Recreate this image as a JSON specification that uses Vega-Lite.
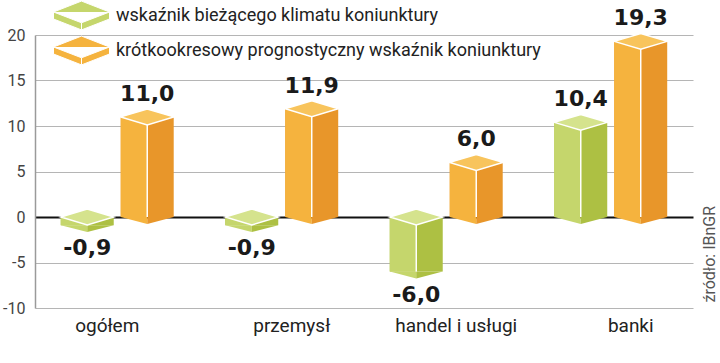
{
  "$schema": "https://vega.github.io/schema/vega-lite/v6.json",
  "width": 658,
  "height": 273,
  "autosize": {"type": "none"},
  "padding": {"left": 35, "top": 35, "right": 27, "bottom": 55},
  "config": {
    "view": {"stroke": null},
    "font": "Roboto",
    "locale": {"number": {"decimal": ",", "thousands": " ", "grouping": [3], "currency": ["", " zł"], "minus": "-"}}
  },
  "data": {
    "values": [
      {"kat": "ogółem", "s": "wskaźnik bieżącego klimatu koniunktury", "v": -0.9},
      {"kat": "ogółem", "s": "krótkookresowy prognostyczny wskaźnik koniunktury", "v": 11.0},
      {"kat": "przemysł", "s": "wskaźnik bieżącego klimatu koniunktury", "v": -0.9},
      {"kat": "przemysł", "s": "krótkookresowy prognostyczny wskaźnik koniunktury", "v": 11.9},
      {"kat": "handel i usługi", "s": "wskaźnik bieżącego klimatu koniunktury", "v": -6.0},
      {"kat": "handel i usługi", "s": "krótkookresowy prognostyczny wskaźnik koniunktury", "v": 6.0},
      {"kat": "banki", "s": "wskaźnik bieżącego klimatu koniunktury", "v": 10.4},
      {"kat": "banki", "s": "krótkookresowy prognostyczny wskaźnik koniunktury", "v": 19.3}
    ]
  },
  "layer": [
    {
      "encoding": {
        "x": {
          "field": "kat", "type": "nominal",
          "sort": ["ogółem", "przemysł", "handel i usługi", "banki"],
          "scale": {"paddingInner": 0, "paddingOuter": 0},
          "axis": {
            "title": null, "domain": false, "ticks": false, "labelAngle": 0, "labelFontSize": 19, "labelColor": "#222", "labelPadding": 8,
            "labelOffset": {"condition": [{"test": "datum.value === 'ogółem'", "value": -10}, {"test": "datum.value === 'banki'", "value": 20}], "value": 10}
          }
        },
        "y": {
          "field": "v", "type": "quantitative",
          "scale": {"domain": [-10, 20], "nice": false},
          "axis": {
            "title": null,
            "values": [-10, -5, 0, 5, 10, 15, 20],
            "format": "d",
            "grid": true,
            "gridColor": {"condition": {"test": "datum.value === 0", "value": "#111111"}, "value": "#b5b5b5"},
            "gridWidth": {"condition": {"test": "datum.value === 0", "value": 2}, "value": 1},
            "domainColor": "#9a9a9a",
            "domainWidth": 1.5,
            "ticks": false,
            "labelPadding": 10,
            "labelFontSize": 16,
            "labelColor": "#444"
          }
        }
      },
      "layer": [
        {
          "mark": {"type": "bar"},
          "encoding": {
            "xOffset": {
              "field": "s", "type": "nominal",
              "scale": {"domain": ["wskaźnik bieżącego klimatu koniunktury", "krótkookresowy prognostyczny wskaźnik koniunktury"], "paddingInner": 0.117, "paddingOuter": 0.43}
            },
            "y2": {"datum": 0},
            "color": {"condition": {"test": "datum.s === 'wskaźnik bieżącego klimatu koniunktury'", "value": "#adc043"}, "value": "#e8962a"}
          }
        },
        {
          "mark": {"type": "bar"},
          "encoding": {
            "xOffset": {
              "field": "s", "type": "nominal",
              "scale": {"domain": ["wskaźnik bieżącego klimatu koniunktury", "krótkookresowy prognostyczny wskaźnik koniunktury"], "paddingInner": 0.5583, "paddingOuter": 0.65, "align": 0.33}
            },
            "y2": {"datum": 0},
            "color": {
              "field": "s", "type": "nominal",
              "scale": {"domain": ["wskaźnik bieżącego klimatu koniunktury", "krótkookresowy prognostyczny wskaźnik koniunktury"], "range": ["#c5d66c", "#f5b33e"]},
              "legend": {
                "orient": "none", "legendX": 32, "legendY": -34, "title": null,
                "symbolType": "M0,-1.03 L2,-0.25 L2,0.25 L0,1.03 L-2,0.25 L-2,-0.25 Z M-2,-0.25 L0,0.52 L2,-0.25 M0,0.52 L0,1.03",
                "symbolSize": 784, "symbolStrokeColor": "white", "symbolStrokeWidth": 1, "symbolOpacity": 1,
                "labelFontSize": 18, "labelColor": "#222", "labelOffset": 20, "rowPadding": 2, "padding": 0, "labelLimit": 600
              }
            }
          }
        },
        {
          "encoding": {
            "xOffset": {
              "field": "s", "type": "nominal",
              "scale": {"domain": ["wskaźnik bieżącego klimatu koniunktury", "krótkookresowy prognostyczny wskaźnik koniunktury"], "paddingInner": 0.117, "paddingOuter": 0.43}
            }
          },
          "layer": [
            {
              "transform": [{"filter": "datum.v >= 0"}],
              "mark": {"type": "point", "filled": true, "opacity": 1, "strokeWidth": 0, "size": 2809, "shape": "M-1,0 L0,0 L0,0.26 Z"},
              "encoding": {
                "y": {"datum": 0},
                "fill": {"condition": {"test": "datum.s === 'wskaźnik bieżącego klimatu koniunktury'", "value": "#c5d66c"}, "value": "#f5b33e"}
              }
            },
            {
              "transform": [{"filter": "datum.v >= 0"}],
              "mark": {"type": "point", "filled": true, "opacity": 1, "strokeWidth": 0, "size": 2809, "shape": "M0,0 L1,0 L0,0.26 Z"},
              "encoding": {
                "y": {"datum": 0},
                "fill": {"condition": {"test": "datum.s === 'wskaźnik bieżącego klimatu koniunktury'", "value": "#adc043"}, "value": "#e8962a"}
              }
            },
            {
              "transform": [{"filter": "datum.v < 0"}],
              "mark": {"type": "point", "filled": true, "opacity": 1, "strokeWidth": 0, "size": 2809, "shape": "M-1,0 L0,0 L0,0.26 Z"},
              "encoding": {
                "fill": {"condition": {"test": "datum.s === 'wskaźnik bieżącego klimatu koniunktury'", "value": "#c5d66c"}, "value": "#f5b33e"}
              }
            },
            {
              "transform": [{"filter": "datum.v < 0"}],
              "mark": {"type": "point", "filled": true, "opacity": 1, "strokeWidth": 0, "size": 2809, "shape": "M0,0 L1,0 L0,0.26 Z"},
              "encoding": {
                "fill": {"condition": {"test": "datum.s === 'wskaźnik bieżącego klimatu koniunktury'", "value": "#adc043"}, "value": "#e8962a"}
              }
            },
            {
              "mark": {"type": "rule", "color": "white", "strokeWidth": 1.5},
              "encoding": {"y2": {"datum": 0}}
            },
            {
              "transform": [{"filter": "datum.v >= 0"}],
              "mark": {"type": "point", "filled": true, "opacity": 1, "stroke": "white", "strokeWidth": 1.5, "size": 2809, "shape": "M-1,0 L0,-0.3 L1,0 L0,0.3 Z"},
              "encoding": {
                "fill": {"condition": {"test": "datum.s === 'wskaźnik bieżącego klimatu koniunktury'", "value": "#d5e38d"}, "value": "#f8c45c"}
              }
            },
            {
              "transform": [{"filter": "datum.v < 0"}],
              "mark": {"type": "point", "filled": true, "opacity": 1, "stroke": "white", "strokeWidth": 1.5, "size": 2809, "shape": "M-1,0 L0,-0.3 L1,0 L0,0.3 Z"},
              "encoding": {
                "y": {"datum": 0},
                "fill": {"condition": {"test": "datum.s === 'wskaźnik bieżącego klimatu koniunktury'", "value": "#d5e38d"}, "value": "#f8c45c"}
              }
            },
            {
              "transform": [{"filter": "datum.v >= 0"}],
              "mark": {"type": "text", "font": "DejaVu Sans", "fontWeight": "bold", "fontSize": 22, "color": "#1a1a1a", "baseline": "alphabetic", "dy": -16},
              "encoding": {"text": {"field": "v", "type": "quantitative", "format": ".1f"}}
            },
            {
              "transform": [{"filter": "datum.v < 0"}],
              "mark": {"type": "text", "font": "DejaVu Sans", "fontWeight": "bold", "fontSize": 22, "color": "#1a1a1a", "baseline": "alphabetic", "dy": 30},
              "encoding": {"text": {"field": "v", "type": "quantitative", "format": ".1f"}}
            }
          ]
        }
      ],
      "resolve": {"scale": {"xOffset": "independent"}}
    },
    {
      "mark": {"type": "rule", "opacity": 0},
      "encoding": {
        "y": {
          "datum": 0, "type": "quantitative",
          "scale": {"domain": [-10, 20], "nice": false},
          "axis": {
            "orient": "right", "title": "źródło: IBnGR", "labels": false, "ticks": false, "domain": false, "grid": false,
            "titleAngle": 270, "titleAlign": "left", "titleBaseline": "middle", "titleX": 16, "titleY": 267,
            "titleFontSize": 16, "titleFontWeight": "normal", "titleColor": "#555"
          }
        }
      }
    }
  ],
  "resolve": {"axis": {"y": "independent"}}
}
